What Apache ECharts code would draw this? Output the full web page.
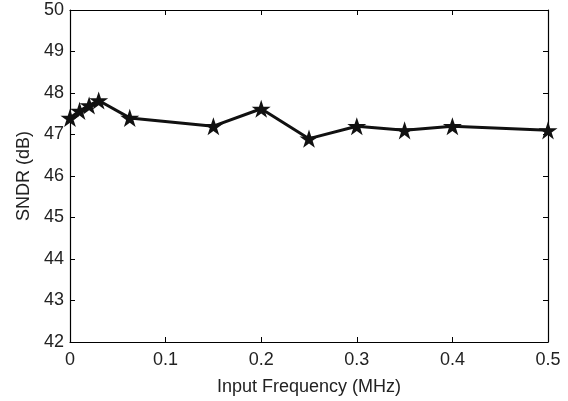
<!DOCTYPE html>
<html><head><meta charset="utf-8">
<script src="https://cdn.jsdelivr.net/npm/echarts@6/dist/echarts.min.js"></script>
<style>html,body{margin:0;padding:0;background:#fff}#c{width:568px;height:401px}</style>
</head><body><div id="c"></div>
<script>
var freqMHz = [0, 0.01, 0.02, 0.03, 0.0625, 0.15, 0.2, 0.25, 0.3, 0.35, 0.4, 0.5];
var sndr = [47.4, 47.57, 47.7, 47.82, 47.4, 47.2, 47.62, 46.9, 47.2, 47.1, 47.2, 47.1];
var xTicks = [0, 0.1, 0.2, 0.3, 0.4, 0.5];
var yTicks = [42, 43, 44, 45, 46, 47, 48, 49, 50];

var star = 'path://M100 0 L122.45 69.1 L195.1 69.1 L136.3 111.8 L158.8 180.9 L100 138.2 L41.2 180.9 L63.7 111.8 L4.9 69.1 L77.55 69.1 Z';
var font = 'Liberation Sans, Arial, Helvetica, sans-serif';
var axisCommon = {
  axisLine: {show: true, onZero: false, lineStyle: {color: '#000', width: 1.2}},
  axisTick: {show: true, inside: true, length: 5, lineStyle: {color: '#000', width: 1}},
  splitLine: {show: false}
};
var data = freqMHz.map(function (f, i) { return [f, sndr[i]]; });
var chart = echarts.init(document.getElementById('c'), null, {renderer: 'canvas'});
chart.setOption({
  animation: false,
  backgroundColor: '#fff',
  grid: {left: 70, right: 20, top: 10, bottom: 59, containLabel: false},
  xAxis: [
    Object.assign({type: 'value', position: 'bottom', min: xTicks[0], max: xTicks[xTicks.length - 1], interval: 0.1,
      name: 'Input Frequency (MHz)', nameLocation: 'middle', nameGap: 36,
      nameTextStyle: {fontFamily: font, fontSize: 18, color: '#222'},
      axisLabel: {fontFamily: font, fontSize: 18, color: '#222', margin: 9,
        formatter: function (v) { return +v.toFixed(1) + ''; }}}, axisCommon),
    Object.assign({type: 'value', position: 'top', min: xTicks[0], max: xTicks[xTicks.length - 1], interval: 0.1,
      axisLabel: {show: false}}, axisCommon)
  ],
  yAxis: [
    Object.assign({type: 'value', position: 'left', min: yTicks[0], max: yTicks[yTicks.length - 1], interval: 1,
      name: 'SNDR (dB)', nameLocation: 'middle', nameGap: 37, nameRotate: 90,
      nameTextStyle: {fontFamily: font, fontSize: 18, color: '#222'},
      axisLabel: {fontFamily: font, fontSize: 18, color: '#222', margin: 6}}, axisCommon),
    Object.assign({type: 'value', position: 'right', min: yTicks[0], max: yTicks[yTicks.length - 1], interval: 1,
      axisLabel: {show: false}}, axisCommon)
  ],
  series: [{
    type: 'line',
    data: data,
    xAxisIndex: 0, yAxisIndex: 0,
    symbol: star, symbolSize: 19, symbolKeepAspect: true,
    lineStyle: {color: '#111', width: 3},
    itemStyle: {color: '#111'},
    showAllSymbol: true
  }]
});
</script></body></html>
